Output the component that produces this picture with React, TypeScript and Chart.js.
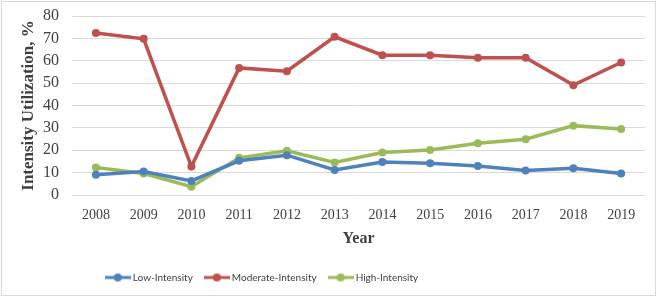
import React, { useEffect, useRef } from "react";
import { Chart, registerables } from "chart.js";

Chart.register(...registerables);

const years = ["2008", "2009", "2010", "2011", "2012", "2013", "2014", "2015", "2016", "2017", "2018", "2019"];
const lowIntensity = [9.0, 10.5, 6.3, 15.3, 17.8, 11.2, 14.7, 14.2, 13.0, 10.9, 12.0, 9.6];
const moderateIntensity = [72.4, 69.8, 12.7, 56.8, 55.3, 70.7, 62.5, 62.5, 61.3, 61.3, 49.1, 59.2];
const highIntensity = [12.3, 9.6, 3.7, 16.6, 19.8, 14.5, 19.0, 20.1, 23.1, 24.9, 31.0, 29.5];

const seriesNames = ["Low-Intensity", "Moderate-Intensity", "High-Intensity"];
const seriesColors = ["#4F81BD", "#C0504D", "#9BBB59"];

function legendImage(color: string) {
  const c = document.createElement("canvas");
  c.width = 26;
  c.height = 10;
  const ctx = c.getContext("2d")!;
  ctx.strokeStyle = color;
  ctx.lineWidth = 3;
  ctx.beginPath();
  ctx.moveTo(0, 5);
  ctx.lineTo(26, 5);
  ctx.stroke();
  ctx.fillStyle = color;
  ctx.beginPath();
  ctx.arc(13, 5, 4, 0, Math.PI * 2);
  ctx.fill();
  return c;
}

export default function App() {
  const ref = useRef<HTMLCanvasElement>(null);
  useEffect(() => {
    document.body.style.margin = "0";
    const images = seriesColors.map(legendImage);
    const values = [lowIntensity, moderateIntensity, highIntensity];
    const borderPlugin = {
      id: "outerBorder",
      afterLayout(chart: any) {
        const lg = chart.legend;
        if (lg) {
          lg.right = 2 * 263 - lg.left;
        }
      },
      afterDraw(chart: any) {
        const ctx = chart.ctx;
        ctx.save();
        ctx.strokeStyle = "#D9D9D9";
        ctx.lineWidth = 1;
        ctx.strokeRect(1.5, 1.5, 654, 294);
        ctx.restore();
      },
    };
    const chart = new Chart(ref.current!, {
      type: "line",
      data: {
        labels: years,
        datasets: values.map((v, i) => ({
          label: seriesNames[i],
          data: v,
          borderColor: seriesColors[i],
          backgroundColor: seriesColors[i],
          borderWidth: 3.5,
          pointRadius: 4,
          pointBorderWidth: 0,
          pointBackgroundColor: seriesColors[i],
          tension: 0,
        })),
      },
      options: {
        animation: false,
        responsive: false,
        maintainAspectRatio: false,
        layout: { padding: { left: 0, right: 16, top: 16, bottom: 4.5 } },
        scales: {
          x: {
            offset: true,
            grid: { display: false },
            border: { display: false },
            ticks: {
              color: "#404040",
              padding: 4,
              font: { family: "'Liberation Serif', 'Times New Roman', serif", size: 14 },
            },
            title: {
              display: true,
              text: "Year",
              color: "#404040",
              padding: { top: 0, bottom: 10 },
              font: { family: "'Liberation Serif', 'Times New Roman', serif", size: 16, weight: "bold" },
            },
            afterFit(scale: any) {
              scale.height = 63.5;
            },
          },
          y: {
            min: 0,
            max: 80,
            ticks: {
              stepSize: 10,
              autoSkip: false,
              color: "#404040",
              padding: 2,
              font: { family: "'Liberation Serif', 'Times New Roman', serif", size: 16 },
            },
            grid: { color: "#D9D9D9", lineWidth: 1, drawTicks: true, tickLength: 11, tickColor: "rgba(0,0,0,0)" },
            border: { display: false },
            title: {
              display: true,
              text: "Intensity Utilization, %",
              color: "#404040",
              padding: { top: 18, bottom: 0 },
              font: { family: "'Liberation Serif', 'Times New Roman', serif", size: 17, weight: "bold" },
            },
            afterFit(scale: any) {
              scale.width = 72;
            },
          },
        },
        plugins: {
          legend: {
            position: "bottom",
            labels: {
              usePointStyle: true,
              pointStyleWidth: 20,
              padding: 14,
              color: "#404040",
              font: { family: "Lato, sans-serif", size: 10 },
              generateLabels(chart: any) {
                const items = Chart.defaults.plugins.legend.labels.generateLabels(chart);
                return items.map((it: any, i: number) => ({ ...it, pointStyle: images[i] }));
              },
            },
          },
          tooltip: { enabled: false },
        },
      },
      plugins: [borderPlugin],
    } as any);
    return () => chart.destroy();
  }, []);
  return (
    <div style={{ width: 661, height: 297, position: "relative" }}>
      <canvas ref={ref} width={661} height={297} style={{ display: "block" }} />
    </div>
  );
}
